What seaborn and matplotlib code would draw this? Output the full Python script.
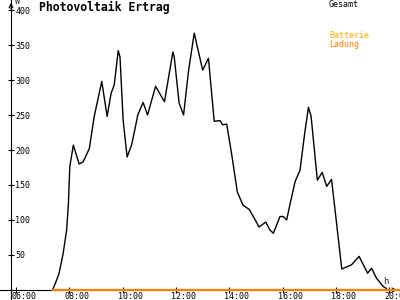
import matplotlib
matplotlib.use("Agg")
import matplotlib.pyplot as plt
import matplotlib.transforms as mtransforms
import seaborn as sns
import pandas as pd

# ---- data ----
gesamt_times = ["07:23", "07:30", "07:37", "07:46", "07:54", "07:58", "08:01", "08:09",
                "08:22", "08:31", "08:45", "08:56", "09:13", "09:25", "09:34", "09:41",
                "09:50", "09:54", "10:01", "10:10", "10:20", "10:28", "10:34", "10:46",
                "10:56", "11:14", "11:34", "11:53", "11:56", "12:07", "12:17", "12:28",
                "12:41", "13:00", "13:13", "13:26", "13:39", "13:45", "13:54", "14:05",
                "14:18", "14:31", "14:45", "15:07", "15:22", "15:31", "15:39", "15:54",
                "16:01", "16:09", "16:16", "16:28", "16:39", "16:50", "16:58", "17:04",
                "17:18", "17:29", "17:39", "17:50", "18:13", "18:35", "18:52", "19:11",
                "19:20", "19:31", "19:46", "19:54"]
gesamt_watts = [1, 12, 24, 52, 86, 124, 176, 207,
                180, 183, 202, 248, 298, 248, 281, 293,
                342, 333, 243, 190, 207, 231, 250, 268,
                250, 291, 269, 340, 333, 267, 250, 312,
                367, 314, 331, 241, 242, 236, 237, 195,
                140, 121, 115, 90, 97, 86, 81, 105,
                105, 100, 121, 155, 171, 226, 261, 248,
                157, 168, 148, 158, 30, 36, 48, 24,
                31, 17, 5, 2]
batterie_times = ["07:23", "20:30"]
batterie_watts = [0, 0]
x_tick_hours = [6, 8, 10, 12, 14, 16, 18, 20]
x_tick_labels = ["06:00", "08:00", "10:00", "12:00", "14:00", "16:00", "18:00", "20:00"]
y_ticks = [50, 100, 150, 200, 250, 300, 350, 400]


def to_hours(t):
    h, m = t.split(":")
    return int(h) + int(m) / 60.0


df_g = pd.DataFrame({"Zeit": [to_hours(t) for t in gesamt_times], "Leistung": gesamt_watts})
df_b = pd.DataFrame({"Zeit": [to_hours(t) for t in batterie_times], "Leistung": batterie_watts})

sns.set_style("white")
plt.rcParams["font.family"] = ["DejaVu Sans Mono", "DejaVu Sans"]

fig = plt.figure(figsize=(4, 3), dpi=100)
ax = fig.add_axes([0, 0, 1, 1])
fig.patch.set_facecolor("white")
ax.set_facecolor("white")

sns.lineplot(data=df_g, x="Zeit", y="Leistung", ax=ax, color="black", lw=1.0, zorder=4)
sns.lineplot(data=df_b, x="Zeit", y="Leistung", ax=ax, color="#ff8000", lw=1.6, zorder=5)

ax.set_xlim(5.4, 20.4)
ax.set_ylim(-14.3, 414.3)
ax.set_xlabel("")
ax.set_ylabel("")

# axes through origin
y_axis_x = 5.8125
for s in ["top", "right"]:
    ax.spines[s].set_visible(False)
ax.spines["left"].set_position(("data", y_axis_x))
ax.spines["bottom"].set_position(("data", 0))
for s in ["left", "bottom"]:
    ax.spines[s].set_color("black")
    ax.spines[s].set_linewidth(0.8)

ax.set_yticks(y_ticks)
ax.set_yticklabels([str(v) for v in y_ticks])
ax.set_xticks(x_tick_hours)
ax.set_xticklabels(x_tick_labels)
ax.tick_params(axis="y", direction="inout", length=4.5, width=0.8, pad=-5.2,
               labelsize=6, colors="black", left=True)
ax.tick_params(axis="x", direction="inout", length=4.5, width=0.8, pad=-0.5,
               labelsize=6, colors="black", bottom=True)
for lab in ax.get_yticklabels():
    lab.set_horizontalalignment("left")
off = mtransforms.ScaledTranslation(-0.05, 0, fig.dpi_scale_trans)
for lab in ax.get_xticklabels():
    lab.set_horizontalalignment("left")
    lab.set_transform(lab.get_transform() + off)

# arrows at axis ends
ax.annotate("", xy=(1.0, 0), xytext=(0.97, 0),
            xycoords=("axes fraction", "data"), textcoords=("axes fraction", "data"),
            arrowprops=dict(arrowstyle="->", lw=0.8, color="black", mutation_scale=7))
ax.annotate("", xy=(y_axis_x, 1.0), xytext=(y_axis_x, 0.96),
            xycoords=("data", "axes fraction"), textcoords=("data", "axes fraction"),
            arrowprops=dict(arrowstyle="->", lw=0.8, color="black", mutation_scale=7))

# unit labels
ax.annotate("W", xy=(y_axis_x, 1.0), xycoords=("data", "axes fraction"),
            xytext=(4, -1), textcoords="offset pixels", fontsize=6, ha="left", va="center")
ax.annotate("h", xy=(0.964, 0), xycoords=("axes fraction", "data"),
            xytext=(0, 8), textcoords="offset pixels", fontsize=6.5, ha="center", va="center")

# title and legend texts
fig.text(0.0975, 0.963, "Photovoltaik Ertrag", fontsize=8.3, fontweight="bold",
         ha="left", va="baseline", color="black")
fig.text(0.8225, 0.985, "Gesamt", fontsize=6, ha="left", va="center", color="black")
fig.text(0.8225, 0.88, "Batterie", fontsize=6, ha="left", va="center", color="#ffa800")
fig.text(0.8225, 0.853, "Ladung", fontsize=6, ha="left", va="center", color="#ff8000")

fig.savefig("out.png", dpi=100, facecolor="white")
